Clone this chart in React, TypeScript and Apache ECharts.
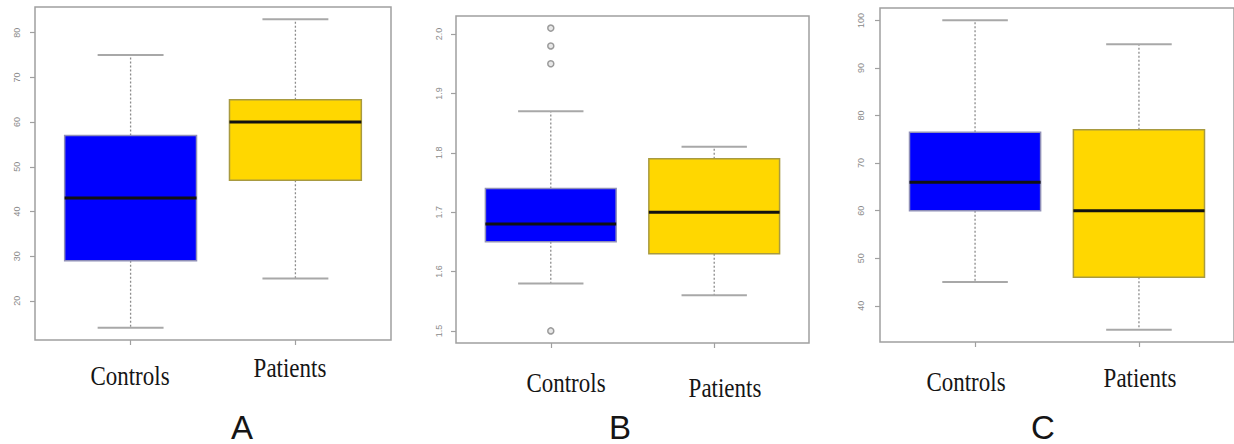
import React, { useEffect, useRef } from "react";
import * as echarts from "echarts";

// ---- data ----
const categories = ["Controls", "Patients"];
const panelLabels = ["A", "B", "C"];
// [lower whisker, Q1, median, Q3, upper whisker]
const boxA = [
  [14, 29, 43, 57, 75],
  [25, 47, 60, 65, 83],
];
const boxB = [
  [1.58, 1.65, 1.68, 1.74, 1.87],
  [1.56, 1.63, 1.7, 1.79, 1.81],
];
const boxC = [
  [45, 60, 66, 76.5, 100],
  [35, 46, 60, 77, 95],
];
// outliers: [group index (1-based), value]
const outliersB = [
  [1, 2.01],
  [1, 1.98],
  [1, 1.95],
  [1, 1.5],
];
const ticksA = [20, 30, 40, 50, 60, 70, 80];
const ticksB = [1.5, 1.6, 1.7, 1.8, 1.9, 2.0];
const ticksC = [40, 50, 60, 70, 80, 90, 100];

const boxColors = ["#0000FF", "#FFD700"];

function rangeOf(boxes: number[][], extra: number[][] = []) {
  const vals: number[] = [];
  boxes.forEach((b) => b.forEach((v) => vals.push(v)));
  extra.forEach((o) => vals.push(o[1]));
  const lo = Math.min(...vals);
  const hi = Math.max(...vals);
  const pad = (hi - lo) * 0.04;
  return [lo - pad, hi + pad];
}

export default function App() {
  const ref = useRef<HTMLDivElement>(null);

  useEffect(() => {
    if (!ref.current) return;
    const chart = echarts.init(ref.current, null, { renderer: "svg" });

    const grids = [
      { left: 35, top: 7, width: 356, height: 333 },
      { left: 456, top: 16, width: 353, height: 327 },
      { left: 880, top: 8, width: 359, height: 334 },
    ];
    const panels = [
      { boxes: boxA, ticks: ticksA, outliers: [] as number[][], dec: 0, margin: 14 },
      { boxes: boxB, ticks: ticksB, outliers: outliersB, dec: 1, margin: 13 },
      { boxes: boxC, ticks: ticksC, outliers: [] as number[][], dec: 0, margin: 15 },
    ];

    const gridOpts = grids.map((g) => ({
      ...g,
      show: true,
      borderColor: "#a0a0a0",
      borderWidth: 1.5,
      backgroundColor: "#fff",
    }));

    const xAxes = panels.map((_, i) => ({
      type: "value",
      gridIndex: i,
      min: 0.42,
      max: 2.58,
      axisLine: { show: false },
      axisTick: { show: true, customValues: [1, 2], length: 5, lineStyle: { color: "#a0a0a0", width: 1.2 } },
      axisLabel: { show: false },
      splitLine: { show: false },
    }));

    const yAxes = panels.map((p, i) => {
      const [mn, mx] = rangeOf(p.boxes, p.outliers);
      return {
        type: "value",
        gridIndex: i,
        min: mn,
        max: mx,
        axisLine: { show: false },
        axisTick: { show: true, customValues: p.ticks, length: 5, lineStyle: { color: "#a0a0a0", width: 1.2 } },
        axisLabel: {
          show: true,
          customValues: p.ticks,
          rotate: 90,
          margin: p.margin,
          fontSize: 9,
          color: "#8a8a8a",
          fontFamily: "Liberation Sans",
          formatter: (v: number) => (p.dec ? v.toFixed(p.dec) : String(v)),
        },
        splitLine: { show: false },
      };
    });

    const renderBox = (params: any, api: any) => {
      const x = api.value(0);
      const low = api.value(1);
      const q1 = api.value(2);
      const med = api.value(3);
      const q3 = api.value(4);
      const high = api.value(5);
      const ci = api.value(6);
      const halfW = api.size([0.8, 0])[0] / 2;
      const capHalf = halfW / 2;
      const pLow = api.coord([x, low]);
      const pQ1 = api.coord([x, q1]);
      const pMed = api.coord([x, med]);
      const pQ3 = api.coord([x, q3]);
      const pHigh = api.coord([x, high]);
      const cx = pMed[0];
      const whisk = { stroke: "#8c8c8c", lineWidth: 1.3, lineDash: [2, 2] };
      const cap = { stroke: "#a8a8a8", lineWidth: 2 };
      return {
        type: "group",
        children: [
          { type: "line", shape: { x1: cx, y1: pQ3[1], x2: cx, y2: pHigh[1] }, style: whisk },
          { type: "line", shape: { x1: cx, y1: pQ1[1], x2: cx, y2: pLow[1] }, style: whisk },
          { type: "line", shape: { x1: cx - capHalf, y1: pHigh[1], x2: cx + capHalf, y2: pHigh[1] }, style: cap },
          { type: "line", shape: { x1: cx - capHalf, y1: pLow[1], x2: cx + capHalf, y2: pLow[1] }, style: cap },
          {
            type: "rect",
            shape: { x: cx - halfW, y: pQ3[1], width: halfW * 2, height: pQ1[1] - pQ3[1] },
            style: { fill: boxColors[ci], stroke: ci === 0 ? "#8f8fb8" : "#a89a40", lineWidth: 1.5 },
          },
          { type: "line", shape: { x1: cx - halfW, y1: pMed[1], x2: cx + halfW, y2: pMed[1] }, style: { stroke: "#111", lineWidth: 3 } },
        ],
      };
    };

    const series: any[] = [];
    panels.forEach((p, i) => {
      series.push({
        type: "custom",
        xAxisIndex: i,
        yAxisIndex: i,
        renderItem: renderBox,
        encode: { x: 0, y: [1, 2, 3, 4, 5] },
        data: p.boxes.map((b, k) => [k + 1, ...b, k]),
        silent: true,
      });
      if (p.outliers.length) {
        series.push({
          type: "scatter",
          xAxisIndex: i,
          yAxisIndex: i,
          symbol: "circle",
          symbolSize: 6,
          itemStyle: { color: "#e8e8e8", borderColor: "#9a9a9a", borderWidth: 1.5, opacity: 1 },
          data: p.outliers,
          silent: true,
          z: 5,
        });
      }
    });

    // label layout (positions only)
    const catPos = [
      [[130, 375], [290, 367]],
      [[566, 382], [725, 387]],
      [[966, 381], [1140, 377]],
    ];
    const letterPos = [[242, 427], [620, 427], [1043, 427]];

    const graphics: any[] = [];
    catPos.forEach((pp, i) => {
      pp.forEach((pos, k) => {
        graphics.push({
          type: "text",
          x: pos[0],
          y: pos[1],
          scaleY: 1.2,
          style: {
            text: categories[k],
            align: "center",
            verticalAlign: "middle",
            fontFamily: "Liberation Serif",
            fontSize: 23,
            lineHeight: 23,
            fill: "#151515",
          },
        });
      });
      graphics.push({
        type: "text",
        x: letterPos[i][0],
        y: letterPos[i][1],
        style: {
          text: panelLabels[i],
          align: "center",
          verticalAlign: "middle",
          fontFamily: "Liberation Sans",
          fontSize: 33,
          lineHeight: 28,
          fill: "#151515",
        },
      });
    });

    chart.setOption({
      animation: false,
      backgroundColor: "#fff",
      grid: gridOpts,
      xAxis: xAxes,
      yAxis: yAxes,
      series,
      graphic: graphics,
    });

    return () => chart.dispose();
  }, []);

  return (
    <div
      ref={ref}
      style={{ position: "fixed", left: 0, top: 0, width: 1234, height: 444, background: "#fff" }}
    />
  );
}
